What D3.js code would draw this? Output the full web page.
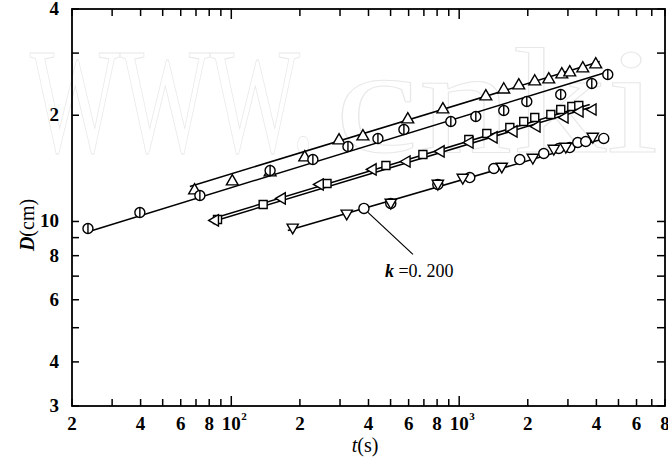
<!DOCTYPE html>
<html>
<head>
<meta charset="utf-8">
<script src="https://cdn.jsdelivr.net/npm/d3@7"></script>
<style>
  body { margin: 0; background: #fff; }
  text { font-family: "Liberation Serif", "Times New Roman", serif; }
</style>
</head>
<body>
<div id="chart"></div>
<script>
// Axis domains
var tDomain = [20, 8000];
var dDomain = [3, 40];

// Ticks and their labels
var tTicks = [20, 30, 40, 50, 60, 70, 80, 90, 100, 200, 300, 400, 500, 600, 700, 800, 900,
              1000, 2000, 3000, 4000, 5000, 6000, 7000, 8000];
var tLabelVals = [20, 40, 60, 80, 100, 200, 400, 600, 800, 1000, 2000, 4000, 6000, 8000];
var tLabelText = ['2', '4', '6', '8', '10', '2', '4', '6', '8', '10', '2', '4', '6', '8'];
var tLabelExp  = ['', '', '', '', '2', '', '', '', '', '3', '', '', '', ''];

var dTicks = [3, 4, 5, 6, 7, 8, 9, 10, 20, 30, 40];
var dLabelVals = [3, 4, 6, 8, 10, 20, 40];
var dLabelText = ['3', '4', '6', '8', '10', '2', '4'];

// Series: t (s) and D (cm)
var triT = [69, 101, 148, 210, 297, 378, 595, 848, 1309, 1569, 1826, 2146, 2472, 2820, 3056, 3486, 3974];
var triD = [12.24, 12.98, 13.77, 15.18, 16.96, 17.41, 19.45, 20.76, 22.61, 23.65, 24.28, 24.92, 25.25, 26.09, 26.43, 27.13, 27.85];

var phiT = [23.5, 39.7, 72.8, 148, 228, 325, 440, 572, 919, 1183, 1569, 1980, 2790, 3818, 4488];
var phiD = [9.55, 10.6, 11.85, 13.94, 14.98, 16.31, 17.19, 18.22, 19.2, 19.84, 20.63, 21.88, 22.9, 24.6, 26.09];

var sqT = [87, 138, 263, 477, 693, 1102, 1322, 1668, 1920, 2146, 2524, 2790, 3120, 3348];
var sqD = [10.13, 11.17, 12.81, 14.41, 15.48, 17.08, 17.76, 18.47, 19.2, 19.71, 20.1, 20.76, 21.17, 21.31];

var ltriT = [85, 167, 245, 418, 589, 831, 1113, 1419, 1736, 2190, 2906, 3382, 3856];
var ltriD = [10.07, 11.62, 12.73, 14.04, 14.79, 15.79, 16.74, 17.3, 17.99, 18.58, 19.71, 20.49, 20.76];

var dtriT = [186, 321, 501, 806, 1037, 1538, 2104, 2600, 2936, 3856];
var dtriD = [9.62, 10.54, 11.32, 12.81, 13.32, 14.32, 15.18, 16.1, 16.31, 17.41];

var circT = [382, 501, 806, 1113, 1419, 1844, 2350, 2736, 3056, 3314, 3592, 4308];
var circD = [10.89, 11.25, 12.73, 13.32, 14.13, 14.98, 15.58, 16.1, 16.2, 16.74, 16.85, 17.19];

// Fitted lines: [t0, D0], [t1, D1]
var fitTri  = [[65.8, 12.57], [4138, 28.4]];
var fitPhi  = [[23.0, 9.31], [4396, 26.43]];
var fitSqA  = [[83.1, 10.2], [3740, 21.45]];
var fitSqB  = [[83.1, 10.0], [3740, 21.04]];
var fitLow  = [[177, 9.43], [4488, 17.3]];

// Annotated point
var noteT = 382, noteD = 10.89;

var svg = d3.select('#chart').append('svg')
            .attr('width', 668)
            .attr('height', 460);

var mLeft = 72, mRight = 665, mTop = 9, mBottom = 406;

var x = d3.scaleLog().domain(tDomain).range([mLeft, mRight]);
var y = d3.scaleLog().domain(dDomain).range([mBottom, mTop]);

// faint watermark
var wm = svg.append('g')
            .attr('fill', 'none')
            .attr('stroke', '#e8e8e8')
            .attr('stroke-width', 1)
            .style('font-size', '150px');
wm.append('text').attr('x', 30).attr('y', 152)
  .attr('textLength', 285).attr('lengthAdjust', 'spacingAndGlyphs').text('WWW.');
wm.append('text').attr('x', 335).attr('y', 152)
  .attr('textLength', 600).attr('lengthAdjust', 'spacingAndGlyphs').text('cnki.net');

// frame
svg.append('rect')
   .attr('x', mLeft).attr('y', mTop)
   .attr('width', mRight - mLeft).attr('height', mBottom - mTop)
   .attr('fill', 'none').attr('stroke', '#000').attr('stroke-width', 1.8);

// ticks, all pointing inward
var isDecade = function (v) { return v === 100 || v === 1000; };
var tickG = svg.append('g').attr('stroke', '#000').attr('stroke-width', 1.5);

tickG.selectAll('.tb').data(tTicks).enter().append('line')
     .attr('x1', function (d) { return x(d); }).attr('x2', function (d) { return x(d); })
     .attr('y1', mBottom).attr('y2', function (d) { return mBottom - (isDecade(d) ? 10 : 7); });
tickG.selectAll('.tt').data(tTicks).enter().append('line')
     .attr('x1', function (d) { return x(d); }).attr('x2', function (d) { return x(d); })
     .attr('y1', mTop).attr('y2', function (d) { return mTop + (isDecade(d) ? 10 : 7); });
tickG.selectAll('.tl').data(dTicks).enter().append('line')
     .attr('y1', function (d) { return y(d); }).attr('y2', function (d) { return y(d); })
     .attr('x1', mLeft).attr('x2', mLeft + 7);
tickG.selectAll('.tr').data(dTicks).enter().append('line')
     .attr('y1', function (d) { return y(d); }).attr('y2', function (d) { return y(d); })
     .attr('x1', mRight).attr('x2', mRight - 8);

// x labels
var xl = svg.append('g').style('font-size', '19px').style('font-weight', 'bold');
tLabelVals.forEach(function (v, i) {
    xl.append('text').attr('x', x(v)).attr('y', 430)
      .attr('text-anchor', 'middle').text(tLabelText[i]);
    if (tLabelExp[i])
        xl.append('text').attr('x', x(v) + 10).attr('y', 420)
          .style('font-size', '11px').text(tLabelExp[i]);
});

// y labels
var yl = svg.append('g').style('font-size', '19px').style('font-weight', 'bold');
dLabelVals.forEach(function (v, i) {
    yl.append('text').attr('x', 59).attr('y', y(v) + 6)
      .attr('text-anchor', 'end').text(dLabelText[i]);
});

// axis titles
var xt = svg.append('text').attr('x', 365).attr('y', 452)
            .attr('text-anchor', 'middle').style('font-size', '20px');
xt.append('tspan').style('font-style', 'italic').text('t');
xt.append('tspan').text('(s)');

var yt = svg.append('text')
            .attr('transform', 'translate(34,225) rotate(-90)')
            .attr('text-anchor', 'middle').style('font-size', '20px');
yt.append('tspan').style('font-style', 'italic').style('font-weight', 'bold').text('D');
yt.append('tspan').text('(cm)');

// fitted lines
var line = d3.line().x(function (d) { return x(d[0]); }).y(function (d) { return y(d[1]); });
[fitTri, fitPhi, fitSqA, fitSqB, fitLow].forEach(function (seg) {
    svg.append('path').attr('d', line(seg))
       .attr('fill', 'none').attr('stroke', '#000').attr('stroke-width', 1.5);
});

// markers
var pts = function (ts, ds) { return ts.map(function (t, i) { return [t, ds[i]]; }); };
var drawSymbol = function (data, type, size, rot) {
    svg.append('g').selectAll('path').data(data).enter().append('path')
       .attr('d', d3.symbol().type(type).size(size))
       .attr('transform', function (d) { return 'translate(' + x(d[0]) + ',' + y(d[1]) + ') rotate(' + rot + ')'; })
       .attr('fill', '#fff').attr('stroke', '#000').attr('stroke-width', 1.4);
};

drawSymbol(pts(triT, triD), d3.symbolTriangle, 60, 0);
drawSymbol(pts(sqT, sqD), d3.symbolSquare, 64, 0);
drawSymbol(pts(ltriT, ltriD), d3.symbolTriangle, 55, -90);
drawSymbol(pts(circT, circD), d3.symbolCircle, 80, 0);
drawSymbol(pts(dtriT, dtriD), d3.symbolTriangle, 55, 180);

// circles with a vertical bar
var phiG = svg.append('g').selectAll('g').data(pts(phiT, phiD)).enter().append('g')
              .attr('transform', function (d) { return 'translate(' + x(d[0]) + ',' + y(d[1]) + ')'; });
phiG.append('circle').attr('r', 5).attr('fill', '#fff').attr('stroke', '#000').attr('stroke-width', 1.4);
phiG.append('line').attr('x1', 0).attr('x2', 0).attr('y1', -5).attr('y2', 5)
    .attr('stroke', '#000').attr('stroke-width', 1.4);

// annotation k = 0.200
var nx = x(noteT), ny = y(noteD);
svg.append('line')
   .attr('x1', nx + 4).attr('y1', ny + 4)
   .attr('x2', nx + 49).attr('y2', ny + 46)
   .attr('stroke', '#000').attr('stroke-width', 1.2);
var note = svg.append('text').attr('x', nx + 21).attr('y', ny + 69).style('font-size', '18px');
note.append('tspan').style('font-style', 'italic').style('font-weight', 'bold').text('k');
note.append('tspan').text(' =0. 200');
</script>
</body>
</html>
